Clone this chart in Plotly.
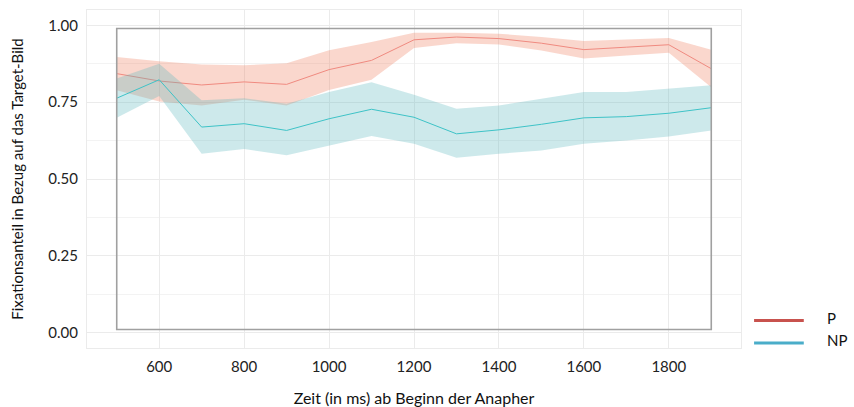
import plotly.graph_objects as go

# ---- data ----
time_ms = [500, 600, 700, 800, 900, 1000, 1100, 1200, 1300, 1400, 1500, 1600, 1700, 1800, 1900]

p_mean  = [0.843, 0.819, 0.806, 0.816, 0.808, 0.856, 0.886, 0.953, 0.962, 0.957, 0.942, 0.921, 0.929, 0.937, 0.859]
p_upper = [0.897, 0.883, 0.873, 0.870, 0.877, 0.919, 0.946, 0.976, 0.976, 0.973, 0.962, 0.949, 0.954, 0.959, 0.921]
p_lower = [0.789, 0.752, 0.739, 0.758, 0.739, 0.790, 0.823, 0.926, 0.942, 0.938, 0.918, 0.892, 0.902, 0.911, 0.799]

np_mean  = [0.763, 0.823, 0.669, 0.680, 0.658, 0.696, 0.727, 0.701, 0.647, 0.660, 0.678, 0.699, 0.703, 0.714, 0.732]
np_upper = [0.827, 0.875, 0.756, 0.763, 0.745, 0.783, 0.815, 0.774, 0.729, 0.739, 0.761, 0.783, 0.783, 0.794, 0.805]
np_lower = [0.699, 0.770, 0.582, 0.598, 0.577, 0.609, 0.640, 0.615, 0.569, 0.582, 0.593, 0.615, 0.625, 0.638, 0.658]

series_names = ["P", "NP"]
y_ticks = [0.0, 0.25, 0.5, 0.75, 1.0]
y_tick_labels = ["0.00", "0.25", "0.50", "0.75", "1.00"]
y_minor = [0.125, 0.375, 0.625, 0.875]
x_ticks = [600, 800, 1000, 1200, 1400, 1600, 1800]

FONT = "Lato, 'Open Sans', sans-serif"
P_FILL = "rgba(238,122,88,0.30)"
NP_FILL = "rgba(88,182,188,0.30)"
P_LINE = "#F08A80"
NP_LINE = "#3EC3C7"
P_LEG = "#C8524E"
NP_LEG = "#4AADC9"

fig = go.Figure()

# P ribbon + line
fig.add_trace(go.Scatter(x=time_ms, y=p_upper, mode="lines", line=dict(width=0),
                         showlegend=False, hoverinfo="skip"))
fig.add_trace(go.Scatter(x=time_ms, y=p_lower, mode="lines", line=dict(width=0),
                         fill="tonexty", fillcolor=P_FILL, showlegend=False, hoverinfo="skip"))
fig.add_trace(go.Scatter(x=time_ms, y=p_mean, mode="lines", name=series_names[0],
                         line=dict(color=P_LINE, width=1), showlegend=False))
# NP ribbon + line
fig.add_trace(go.Scatter(x=time_ms, y=np_upper, mode="lines", line=dict(width=0),
                         showlegend=False, hoverinfo="skip"))
fig.add_trace(go.Scatter(x=time_ms, y=np_lower, mode="lines", line=dict(width=0),
                         fill="tonexty", fillcolor=NP_FILL, showlegend=False, hoverinfo="skip"))
fig.add_trace(go.Scatter(x=time_ms, y=np_mean, mode="lines", name=series_names[1],
                         line=dict(color=NP_LINE, width=1), showlegend=False))

# gray frame around the analysed window
fig.add_shape(type="rect", xref="x", yref="y",
              x0=min(time_ms), x1=max(time_ms), y0=0.01, y1=0.99,
              line=dict(color="#A0A0A0", width=1.6), fillcolor="rgba(0,0,0,0)", layer="above")

# manual legend
leg_y = [0.081, 0.015]
leg_cols = [P_LEG, NP_LEG]
for name, yy, col in zip(series_names, leg_y, leg_cols):
    fig.add_shape(type="line", xref="paper", yref="paper",
                  x0=1.020, x1=1.096, y0=yy, y1=yy,
                  line=dict(color=col, width=3))
    fig.add_annotation(xref="paper", yref="paper", x=1.128, y=yy + 0.008,
                       text=name, showarrow=False, xanchor="left", yanchor="middle",
                       font=dict(family=FONT, size=15, color="#111111"))

fig.update_layout(
    width=854, height=407,
    margin=dict(l=87, r=113, t=10, b=59),
    paper_bgcolor="white", plot_bgcolor="white",
    font=dict(family=FONT, size=15, color="#222222"),
    showlegend=False,
    xaxis=dict(
        range=[430, 1970], tickvals=x_ticks, ticktext=[str(v) for v in x_ticks],
        automargin=False,
        showgrid=True, gridcolor="#EBEBEB", gridwidth=1, zeroline=False,
        showline=True, mirror=True, linecolor="#EBEBEB", linewidth=1,
        ticks="outside", ticklen=5, tickcolor="rgba(0,0,0,0)",
        tickfont=dict(family=FONT, size=15, color="#222222"),
        title=dict(text="Zeit (in ms) ab Beginn der Anapher", standoff=18,
                   font=dict(family=FONT, size=16, color="#111111")),
    ),
    yaxis=dict(
        range=[-0.05, 1.05], tickvals=y_ticks, ticktext=y_tick_labels,
        automargin=False,
        showgrid=True, gridcolor="#EBEBEB", gridwidth=1, zeroline=False,
        showline=True, mirror=True, linecolor="#EBEBEB", linewidth=1,
        ticks="outside", ticklen=5, tickcolor="rgba(0,0,0,0)",
        tickfont=dict(family=FONT, size=15, color="#222222"),
        minor=dict(tickvals=y_minor, showgrid=True, gridcolor="#F3F3F3", gridwidth=1),
        title=dict(text="Fixationsanteil in Bezug auf das Target-Bild", standoff=21,
                   font=dict(family=FONT, size=15, color="#111111")),
    ),
)

fig.write_html("out.html")
